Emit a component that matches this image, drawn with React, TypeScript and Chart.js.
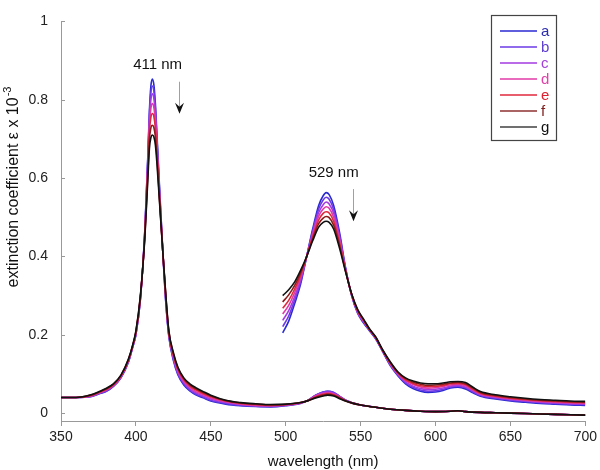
import { useEffect, useRef } from "react";
import { Chart, registerables } from "chart.js";

Chart.register(...registerables);

// ---------- data ----------
const SERIES_NAMES = ["a", "b", "c", "d", "e", "f", "g"];
const SERIES_COLORS = ["#2a2ad2", "#6b3be6", "#a33be0", "#e03aa8", "#e0283c", "#8e1c1c", "#111111"];
const LEGEND_LINE_COLORS = ["#2a2ad2", "#6b3be6", "#a33be0", "#e03aa8", "#e0283c", "#8e3030", "#707070"];
const LEGEND_TEXT_COLORS = ["#2b2bb0", "#6040d0", "#a040d8", "#e040a8", "#e02030", "#802020", "#111111"];

// full-scale spectra (350–700 nm)
const WAVE_FULL = [350, 360, 370, 376, 380, 385, 390, 395, 398, 400, 403, 406, 408, 409, 410, 411, 412, 413, 414, 416, 418, 420, 422, 425, 428, 432, 436, 440, 445, 450, 460, 470, 480, 490, 500, 510, 515, 520, 525, 528, 532, 536, 540, 545, 550, 560, 570, 580, 590, 600, 610, 615, 620, 630, 640, 650, 660, 670, 680, 690, 700];
const FULL_A = [0.040, 0.040, 0.042, 0.050, 0.055, 0.068, 0.090, 0.130, 0.170, 0.200, 0.290, 0.470, 0.660, 0.770, 0.835, 0.853, 0.838, 0.790, 0.715, 0.560, 0.410, 0.280, 0.195, 0.135, 0.098, 0.072, 0.057, 0.047, 0.039, 0.031, 0.023, 0.019, 0.017, 0.016, 0.019, 0.025, 0.033, 0.046, 0.054, 0.056, 0.053, 0.043, 0.033, 0.026, 0.021, 0.015, 0.010, 0.007, 0.005, 0.004, 0.005, 0.006, 0.004, 0.002, 0.001, 0.000, -0.001, -0.002, -0.003, -0.004, -0.005];
const FULL_B = [0.040, 0.040, 0.043, 0.051, 0.056, 0.069, 0.091, 0.131, 0.171, 0.201, 0.291, 0.468, 0.655, 0.760, 0.818, 0.835, 0.822, 0.778, 0.705, 0.553, 0.410, 0.283, 0.198, 0.138, 0.101, 0.075, 0.059, 0.049, 0.041, 0.033, 0.025, 0.020, 0.018, 0.017, 0.020, 0.026, 0.033, 0.046, 0.054, 0.056, 0.053, 0.043, 0.033, 0.026, 0.021, 0.015, 0.010, 0.007, 0.005, 0.004, 0.005, 0.006, 0.004, 0.002, 0.001, 0.000, -0.001, -0.002, -0.003, -0.004, -0.005];
const FULL_C = [0.040, 0.040, 0.043, 0.052, 0.058, 0.070, 0.092, 0.132, 0.172, 0.202, 0.293, 0.465, 0.645, 0.748, 0.800, 0.815, 0.803, 0.763, 0.695, 0.547, 0.410, 0.286, 0.200, 0.141, 0.104, 0.078, 0.062, 0.052, 0.044, 0.036, 0.027, 0.022, 0.019, 0.018, 0.020, 0.026, 0.033, 0.045, 0.052, 0.054, 0.051, 0.042, 0.033, 0.026, 0.021, 0.015, 0.010, 0.007, 0.005, 0.004, 0.005, 0.006, 0.004, 0.002, 0.001, 0.000, -0.001, -0.002, -0.003, -0.004, -0.005];
const FULL_D = [0.040, 0.040, 0.044, 0.053, 0.059, 0.071, 0.093, 0.133, 0.173, 0.204, 0.294, 0.462, 0.635, 0.735, 0.778, 0.790, 0.780, 0.745, 0.683, 0.540, 0.410, 0.290, 0.203, 0.145, 0.108, 0.081, 0.066, 0.055, 0.047, 0.039, 0.029, 0.023, 0.020, 0.019, 0.021, 0.026, 0.033, 0.044, 0.050, 0.052, 0.049, 0.041, 0.032, 0.025, 0.021, 0.015, 0.010, 0.007, 0.005, 0.004, 0.005, 0.006, 0.004, 0.002, 0.001, 0.000, -0.001, -0.002, -0.003, -0.004, -0.005];
const FULL_E = [0.040, 0.040, 0.045, 0.054, 0.060, 0.072, 0.095, 0.135, 0.174, 0.206, 0.296, 0.458, 0.625, 0.718, 0.755, 0.765, 0.757, 0.727, 0.670, 0.535, 0.410, 0.294, 0.205, 0.149, 0.112, 0.085, 0.069, 0.059, 0.050, 0.042, 0.031, 0.025, 0.022, 0.020, 0.022, 0.027, 0.032, 0.042, 0.048, 0.050, 0.047, 0.040, 0.032, 0.025, 0.021, 0.015, 0.010, 0.007, 0.005, 0.004, 0.005, 0.006, 0.004, 0.002, 0.001, 0.000, -0.001, -0.002, -0.003, -0.004, -0.005];
const FULL_F = [0.040, 0.040, 0.046, 0.055, 0.062, 0.074, 0.096, 0.137, 0.175, 0.208, 0.298, 0.455, 0.612, 0.697, 0.728, 0.735, 0.729, 0.705, 0.655, 0.530, 0.410, 0.297, 0.208, 0.152, 0.115, 0.088, 0.072, 0.062, 0.053, 0.044, 0.032, 0.026, 0.023, 0.021, 0.022, 0.027, 0.032, 0.040, 0.046, 0.048, 0.046, 0.039, 0.031, 0.025, 0.021, 0.015, 0.010, 0.007, 0.005, 0.004, 0.005, 0.006, 0.004, 0.002, 0.001, 0.000, -0.001, -0.002, -0.003, -0.004, -0.005];
const FULL_G = [0.040, 0.040, 0.047, 0.056, 0.063, 0.075, 0.097, 0.138, 0.176, 0.210, 0.300, 0.450, 0.600, 0.675, 0.703, 0.710, 0.705, 0.685, 0.640, 0.525, 0.410, 0.300, 0.210, 0.155, 0.118, 0.090, 0.075, 0.065, 0.055, 0.046, 0.033, 0.027, 0.024, 0.022, 0.023, 0.027, 0.032, 0.039, 0.044, 0.046, 0.044, 0.037, 0.031, 0.025, 0.021, 0.015, 0.010, 0.007, 0.005, 0.004, 0.005, 0.006, 0.004, 0.002, 0.001, 0.000, -0.001, -0.002, -0.003, -0.004, -0.005];

// expanded-scale spectra (498–700 nm)
const WAVE_ZOOM = [498, 502, 506, 510, 514, 518, 522, 525, 527, 529, 532, 536, 540, 544, 548, 552, 556, 560, 565, 570, 575, 580, 585, 590, 595, 600, 605, 610, 615, 620, 625, 630, 640, 650, 660, 670, 680, 690, 700];
const ZOOM_A = [0.205, 0.235, 0.280, 0.330, 0.400, 0.470, 0.530, 0.555, 0.563, 0.558, 0.530, 0.460, 0.370, 0.300, 0.255, 0.230, 0.210, 0.190, 0.155, 0.120, 0.095, 0.075, 0.063, 0.056, 0.053, 0.054, 0.058, 0.064, 0.066, 0.062, 0.052, 0.043, 0.036, 0.031, 0.028, 0.025, 0.023, 0.021, 0.020];
const ZOOM_B = [0.221, 0.248, 0.289, 0.336, 0.400, 0.465, 0.521, 0.544, 0.551, 0.546, 0.520, 0.453, 0.368, 0.301, 0.257, 0.232, 0.211, 0.191, 0.156, 0.122, 0.097, 0.077, 0.066, 0.059, 0.056, 0.057, 0.061, 0.067, 0.069, 0.065, 0.054, 0.045, 0.038, 0.033, 0.030, 0.027, 0.025, 0.023, 0.022];
const ZOOM_C = [0.237, 0.262, 0.298, 0.342, 0.400, 0.460, 0.512, 0.532, 0.539, 0.534, 0.510, 0.447, 0.367, 0.302, 0.258, 0.233, 0.212, 0.192, 0.157, 0.123, 0.098, 0.080, 0.069, 0.063, 0.060, 0.061, 0.064, 0.069, 0.071, 0.067, 0.057, 0.047, 0.040, 0.035, 0.031, 0.028, 0.026, 0.024, 0.023];
const ZOOM_D = [0.253, 0.275, 0.308, 0.348, 0.400, 0.455, 0.503, 0.521, 0.527, 0.523, 0.500, 0.440, 0.365, 0.303, 0.260, 0.235, 0.213, 0.193, 0.158, 0.125, 0.100, 0.083, 0.073, 0.067, 0.064, 0.065, 0.068, 0.072, 0.074, 0.070, 0.059, 0.049, 0.042, 0.037, 0.033, 0.030, 0.028, 0.026, 0.025];
const ZOOM_E = [0.268, 0.288, 0.317, 0.353, 0.400, 0.450, 0.493, 0.510, 0.514, 0.511, 0.490, 0.433, 0.363, 0.303, 0.262, 0.237, 0.213, 0.193, 0.158, 0.127, 0.102, 0.085, 0.076, 0.070, 0.068, 0.068, 0.071, 0.075, 0.076, 0.073, 0.061, 0.051, 0.043, 0.038, 0.035, 0.032, 0.030, 0.028, 0.027];
const ZOOM_F = [0.284, 0.302, 0.326, 0.359, 0.400, 0.445, 0.484, 0.498, 0.502, 0.499, 0.480, 0.427, 0.362, 0.304, 0.263, 0.238, 0.214, 0.194, 0.159, 0.128, 0.103, 0.088, 0.079, 0.074, 0.071, 0.072, 0.074, 0.077, 0.079, 0.075, 0.064, 0.053, 0.045, 0.040, 0.036, 0.033, 0.031, 0.029, 0.028];
const ZOOM_G = [0.300, 0.315, 0.335, 0.365, 0.400, 0.440, 0.475, 0.487, 0.490, 0.487, 0.470, 0.420, 0.360, 0.305, 0.265, 0.240, 0.215, 0.195, 0.160, 0.130, 0.105, 0.090, 0.082, 0.077, 0.075, 0.075, 0.077, 0.080, 0.081, 0.078, 0.066, 0.055, 0.047, 0.042, 0.038, 0.035, 0.033, 0.031, 0.030];

const X_TICKS = [350, 400, 450, 500, 550, 600, 650, 700];
const Y_TICKS = [0, 0.2, 0.4, 0.6, 0.8, 1];
const X_TITLE = "wavelength (nm)";
const Y_TITLE = "extinction coefficient ε x 10";
const Y_TITLE_SUP = "-3";
const PEAK_LABELS = ["411 nm", "529 nm"];

const FULL_SERIES = [FULL_A, FULL_B, FULL_C, FULL_D, FULL_E, FULL_F, FULL_G];
const ZOOM_SERIES = [ZOOM_A, ZOOM_B, ZOOM_C, ZOOM_D, ZOOM_E, ZOOM_F, ZOOM_G];

// annotation anchors in data units
const ANNOTATIONS = [
  { text: PEAK_LABELS[0], tx: 414.5, ty: 0.888, ax: 429, ay0: 0.846, ay1: 0.764 },
  { text: PEAK_LABELS[1], tx: 532, ty: 0.614, ax: 545, ay0: 0.572, ay1: 0.49 },
];

const FONT = '"Liberation Sans", Arial, sans-serif';

const overlayPlugin = {
  id: "overlay",
  afterDraw(chart: any) {
    const ctx = chart.ctx as CanvasRenderingContext2D;
    const xs = chart.scales.x;
    const ys = chart.scales.y;
    const area = chart.chartArea;
    ctx.save();

    // inward y tick marks
    ctx.strokeStyle = "#999999";
    ctx.lineWidth = 1;
    Y_TICKS.forEach((v) => {
      const py = Math.round(ys.getPixelForValue(v)) + 0.5;
      ctx.beginPath();
      ctx.moveTo(area.left, py);
      ctx.lineTo(area.left + 4, py);
      ctx.stroke();
    });

    // peak annotations with arrows
    ANNOTATIONS.forEach((a) => {
      ctx.font = `15px ${FONT}`;
      ctx.fillStyle = "#111111";
      ctx.textAlign = "center";
      ctx.textBaseline = "middle";
      ctx.fillText(a.text, xs.getPixelForValue(a.tx), ys.getPixelForValue(a.ty));
      const ax = Math.round(xs.getPixelForValue(a.ax)) + 0.5;
      const y0 = ys.getPixelForValue(a.ay0);
      const y1 = ys.getPixelForValue(a.ay1);
      ctx.strokeStyle = "#a0a0a0";
      ctx.lineWidth = 1;
      ctx.beginPath();
      ctx.moveTo(ax, y0);
      ctx.lineTo(ax, y1 - 6);
      ctx.stroke();
      ctx.fillStyle = "#111111";
      ctx.beginPath();
      ctx.moveTo(ax, y1);
      ctx.lineTo(ax - 4.5, y1 - 11);
      ctx.lineTo(ax, y1 - 7);
      ctx.lineTo(ax + 4.5, y1 - 11);
      ctx.closePath();
      ctx.fill();
    });

    // legend box
    const bx = 491.5, by = 15.5, bw = 65, bh = 125;
    ctx.fillStyle = "#ffffff";
    ctx.fillRect(bx, by, bw, bh);
    ctx.strokeStyle = "#444444";
    ctx.lineWidth = 1.2;
    ctx.strokeRect(bx, by, bw, bh);
    SERIES_NAMES.forEach((name, i) => {
      const y = 31 + i * 16;
      ctx.strokeStyle = LEGEND_LINE_COLORS[i];
      ctx.lineWidth = i === 6 ? 2 : 1.5;
      ctx.beginPath();
      ctx.moveTo(500, y);
      ctx.lineTo(537, y);
      ctx.stroke();
      ctx.fillStyle = LEGEND_TEXT_COLORS[i];
      ctx.font = `15px ${FONT}`;
      ctx.textAlign = "left";
      ctx.textBaseline = "middle";
      ctx.fillText(name, 541, y + 0.5);
    });

    // x axis title
    ctx.fillStyle = "#111111";
    ctx.font = `15px ${FONT}`;
    ctx.textAlign = "center";
    ctx.textBaseline = "middle";
    ctx.fillText(X_TITLE, (area.left + area.right) / 2, 462);

    // y axis title with superscript
    ctx.font = `16px ${FONT}`;
    const mainW = ctx.measureText(Y_TITLE).width;
    ctx.font = `11px ${FONT}`;
    const supW = ctx.measureText(Y_TITLE_SUP).width;
    const total = mainW + supW + 1;
    const cy = 187;
    ctx.save();
    ctx.translate(14, cy);
    ctx.rotate(-Math.PI / 2);
    ctx.textAlign = "left";
    ctx.textBaseline = "middle";
    ctx.font = `16px ${FONT}`;
    ctx.fillText(Y_TITLE, -total / 2, 0);
    ctx.font = `11px ${FONT}`;
    ctx.fillText(Y_TITLE_SUP, -total / 2 + mainW + 1, -6);
    ctx.restore();

    ctx.restore();
  },
};

export default function App() {
  const ref = useRef<HTMLCanvasElement | null>(null);

  useEffect(() => {
    if (!ref.current) return;
    const datasets: any[] = [];
    SERIES_NAMES.forEach((name, i) => {
      datasets.push({
        label: name,
        data: WAVE_FULL.map((w, k) => ({ x: w, y: FULL_SERIES[i][k] })),
        borderColor: SERIES_COLORS[i],
        borderWidth: 1.6,
        pointRadius: 0,
        fill: false,
        cubicInterpolationMode: "monotone",
        order: 20 - i,
      });
    });
    SERIES_NAMES.forEach((name, i) => {
      datasets.push({
        label: name + " (expanded)",
        data: WAVE_ZOOM.map((w, k) => ({ x: w, y: ZOOM_SERIES[i][k] })),
        borderColor: SERIES_COLORS[i],
        borderWidth: 1.6,
        pointRadius: 0,
        fill: false,
        cubicInterpolationMode: "monotone",
        order: 10 - i,
      });
    });

    const chart = new Chart(ref.current, {
      type: "line",
      data: { datasets },
      plugins: [overlayPlugin],
      options: {
        animation: false,
        responsive: false,
        layout: { padding: { top: 11, right: 14, left: 0, bottom: 0 } },
        plugins: { legend: { display: false }, tooltip: { enabled: false } },
        scales: {
          x: {
            type: "linear",
            min: 350,
            max: 700,
            afterBuildTicks: (s: any) => {
              s.ticks = X_TICKS.map((v) => ({ value: v }));
            },
            afterFit: (s: any) => {
              s.height = 49;
            },
            ticks: {
              color: "#222222",
              font: { family: FONT, size: 14 },
              padding: 3,
              maxRotation: 0,
              callback: (v: any) => String(v),
            },
            grid: { display: true, drawOnChartArea: false, drawTicks: true, tickLength: 5, color: "#999999" },
            border: { display: true, color: "#999999", width: 1 },
          },
          y: {
            type: "linear",
            min: -0.02,
            max: 1,
            afterBuildTicks: (s: any) => {
              s.ticks = Y_TICKS.map((v) => ({ value: v }));
            },
            afterFit: (s: any) => {
              s.width = 61;
            },
            ticks: {
              color: "#222222",
              font: { family: FONT, size: 14 },
              padding: 13,
              callback: (v: any) => String(v),
            },
            grid: { display: true, drawOnChartArea: false, drawTicks: false, color: "#999999" },
            border: { display: true, color: "#999999", width: 1 },
          },
        },
      },
    } as any);
    return () => chart.destroy();
  }, []);

  return (
    <div style={{ position: "fixed", left: 0, top: 0, width: 600, height: 470, background: "#ffffff" }}>
      <canvas ref={ref} width={600} height={470} />
    </div>
  );
}
